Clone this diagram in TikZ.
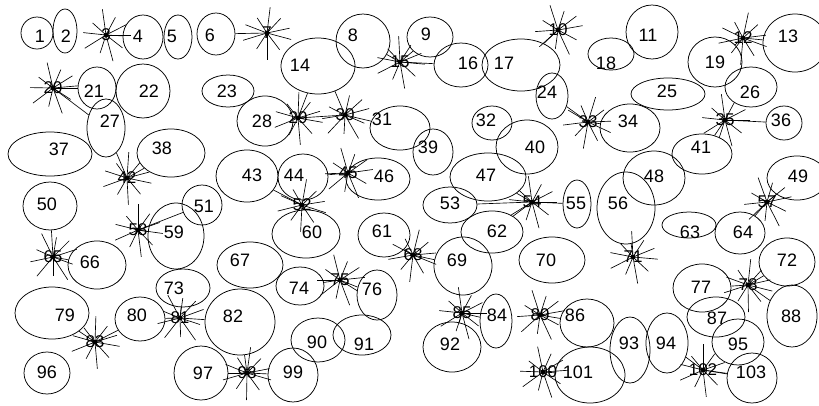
\documentclass[tikz,border=0pt]{standalone}
\usepackage{fontspec}
\setmainfont{Liberation Sans}
\usetikzlibrary{shapes.geometric}
\tikzset{
 ell/.style={draw, ellipse, inner sep=0pt, line width=0.75pt},
 lab/.style={font=\fontsize{18}{18}\selectfont, inner sep=0pt},
 slab/.style={font=\fontsize{17}{17}\selectfont, inner sep=0pt},
 ray/.style={line width=0.65pt},
 edge/.style={line width=0.65pt}
}
\newcommand\mkell[7]{%
 \node[ell, minimum width={2*#4pt}, minimum height={2*#5pt}] (n#1) at (#2,#3) {};
 \node[lab] (t#1) at (#6,#7) {#1};}
\newcommand\mkstar[4]{%
 \node[slab] (s#1) at (#2,#3) {#1};
 \foreach \a/\l in {0/25,38/21,75/27,108/19,148/25,186/23,222/18,262/26,298/20,333/23}
   \draw[ray] (s#1.center) -- ++(\a+#4:\l);
 \fill (s#1.center) circle (2.4);}
\begin{document}
\begin{tikzpicture}[x=1pt,y=-1pt]
\useasboundingbox (0,0) rectangle (819,405);
% ellipses
\mkell{1}{37}{33}{16}{16}{40}{36}
\mkell{2}{65}{31}{12}{22}{66}{36}
\mkell{4}{143}{37}{20}{22}{138}{36}
\mkell{5}{178}{37}{14}{22}{172}{36}
\mkell{6}{216}{34}{19}{21}{210}{35}
\mkell{8}{363}{41}{27}{27}{353}{35}
\mkell{9}{430}{37}{23}{20}{426}{34}
\mkell{11}{652}{32}{26}{27}{648}{35}
\mkell{13}{795}{43}{32}{29}{788}{36}
\mkell{14}{318}{66}{37}{28}{300}{65}
\mkell{16}{461}{65}{27}{22}{468}{63}
\mkell{17}{521}{65}{39}{26}{504}{63}
\mkell{18}{611}{54}{23}{16}{606}{63}
\mkell{19}{715}{62}{27}{25}{715}{62}
\mkell{21}{97}{88}{19}{21}{94}{91}
\mkell{22}{143}{91}{27}{27}{149}{91}
\mkell{23}{228}{91}{26}{16}{227}{91}
\mkell{24}{552}{96}{16}{23}{547}{92}
\mkell{25}{668}{94}{37}{16}{667}{91}
\mkell{26}{751}{87}{26}{20}{750}{92}
\mkell{27}{106}{128}{19}{29}{110}{121}
\mkell{28}{265}{121}{28}{25}{262}{121}
\mkell{31}{400}{128}{30}{22}{382}{119}
\mkell{32}{492}{123}{20}{17}{486}{120}
\mkell{34}{630}{128}{30}{24}{628}{121}
\mkell{36}{784}{123}{18}{17}{781}{120}
\mkell{37}{50}{154}{42}{22}{59}{149}
\mkell{38}{171}{153}{34}{24}{162}{148}
\mkell{39}{433}{152}{20}{23}{428}{147}
\mkell{40}{527}{147}{31}{27}{535}{147}
\mkell{41}{702}{154}{30}{20}{701}{147}
\mkell{43}{247}{176}{31}{26}{252}{175}
\mkell{44}{303}{177}{25}{23}{294}{175}
\mkell{46}{378}{179}{32}{21}{384}{176}
\mkell{47}{488}{177}{38}{24}{486}{175}
\mkell{48}{654}{178}{31}{27}{654}{176}
\mkell{49}{797}{178}{30}{22}{798}{176}
\mkell{50}{50}{206}{27}{24}{47}{204}
\mkell{51}{202}{205}{20}{20}{204}{206}
\mkell{53}{450}{205}{27}{18}{450}{203}
\mkell{55}{577}{204}{14}{24}{576}{203}
\mkell{56}{626}{208}{29}{36}{618}{203}
\mkell{59}{176}{236}{28}{33}{174}{232}
\mkell{60}{306}{234}{34}{24}{312}{232}
\mkell{61}{384}{235}{26}{22}{382}{231}
\mkell{62}{492}{232}{31}{21}{497}{231}
\mkell{63}{689}{225}{27}{13}{690}{232}
\mkell{64}{740}{233}{25}{21}{743}{232}
\mkell{66}{97}{265}{29}{24}{90}{262}
\mkell{67}{250}{265}{33}{23}{240}{260}
\mkell{69}{463}{266}{29}{29}{457}{260}
\mkell{70}{552}{260}{33}{23}{546}{260}
\mkell{72}{787}{262}{28}{24}{787}{260}
\mkell{73}{183}{288}{27}{19}{174}{288}
\mkell{74}{300}{286}{24}{19}{299}{288}
\mkell{76}{377}{295}{20}{25}{372}{289}
\mkell{77}{702}{288}{29}{24}{701}{287}
\mkell{79}{52}{313}{37}{26}{65}{315}
\mkell{80}{140}{319}{25}{22}{137}{315}
\mkell{82}{240}{322}{35}{33}{233}{316}
\mkell{84}{496}{321}{16}{27}{497}{315}
\mkell{86}{587}{323}{27}{24}{575}{315}
\mkell{87}{716}{317}{29}{20}{717}{318}
\mkell{88}{792}{316}{25}{31}{791}{316}
\mkell{90}{318}{340}{27}{22}{317}{342}
\mkell{91}{362}{335}{29}{20}{364}{344}
\mkell{92}{452}{347}{29}{25}{450}{344}
\mkell{93}{630}{350}{20}{33}{629}{343}
\mkell{94}{667}{343}{21}{30}{666}{343}
\mkell{95}{738}{342}{26}{23}{738}{344}
\mkell{96}{47}{373}{23}{21}{47}{372}
\mkell{97}{201}{373}{27}{27}{203}{373}
\mkell{99}{293}{375}{25}{27}{293}{372}
\mkell{101}{590}{375}{35}{28}{578}{372}
\mkell{103}{752}{378}{25}{25}{751}{372}
% star nodes
\mkstar{3}{106}{35}{0}
\mkstar{7}{267}{33}{15}
\mkstar{10}{558}{30}{-10}
\mkstar{12}{743}{38}{20}
\mkstar{15}{400}{62}{5}
\mkstar{20}{53}{88}{-5}
\mkstar{29}{298}{118}{10}
\mkstar{30}{345}{115}{-15}
\mkstar{33}{588}{122}{25}
\mkstar{35}{725}{120}{0}
\mkstar{42}{127}{178}{12}
\mkstar{45}{348}{173}{-8}
\mkstar{52}{302}{205}{18}
\mkstar{54}{532}{202}{0}
\mkstar{57}{767}{202}{-12}
\mkstar{58}{138}{230}{8}
\mkstar{65}{53}{257}{-18}
\mkstar{68}{413}{255}{22}
\mkstar{71}{633}{257}{5}
\mkstar{75}{340}{280}{-6}
\mkstar{78}{748}{285}{14}
\mkstar{81}{180}{318}{-20}
\mkstar{83}{95}{342}{10}
\mkstar{85}{462}{313}{0}
\mkstar{89}{540}{315}{-10}
\mkstar{98}{247}{373}{16}
\mkstar{100}{543}{372}{-4}
\mkstar{102}{703}{370}{8}
% connectors
\foreach \s/\t in {3/4,7/6,20/21,20/27,29/28,29/14,30/31,15/9,15/16,15/8,10/17,
  12/13,12/19,33/24,33/34,35/36,35/41,42/27,42/38,45/44,45/46,52/43,52/44,52/60,
  54/53,54/47,54/62,54/55,57/49,57/64,58/59,58/51,65/50,65/66,68/69,68/61,71/56,
  75/74,75/76,78/77,78/88,78/72,81/80,81/73,81/82,83/79,83/80,85/84,85/92,89/86,
  98/99,98/82,98/97,100/101,102/103,102/94}
  \draw[edge] (s\s.center) -- (n\t);
\draw[edge] (s29.center) -- (s30.center);
\end{tikzpicture}
\end{document}
